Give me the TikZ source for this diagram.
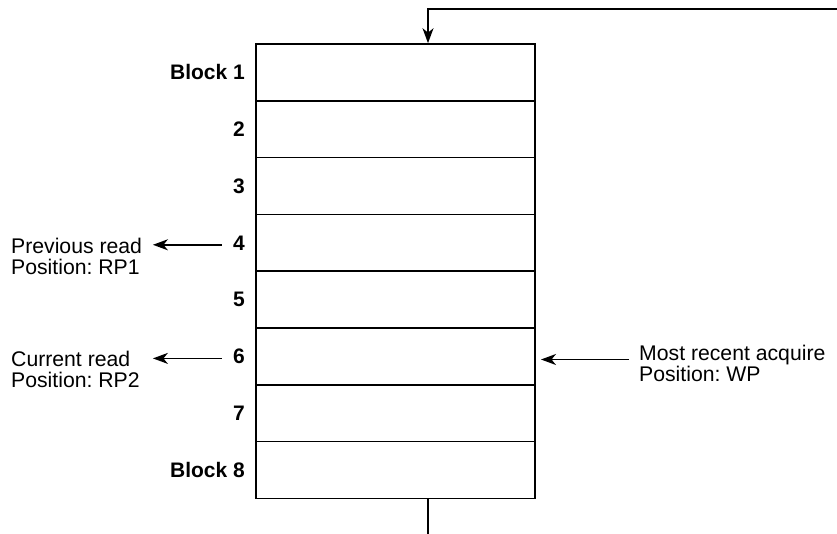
\documentclass[tikz,border=0pt]{standalone}
\usepackage{fontspec}
\setmainfont{Liberation Sans}
\usetikzlibrary{arrows.meta}
\frenchspacing
\begin{document}
\begin{tikzpicture}[x=1pt,y=-1pt,
  blk/.style={draw,line width=1.6pt,minimum width=279pt,minimum height=56.8pt,inner sep=0pt},
  lbl/.style={anchor=east,inner sep=0pt,font=\fontsize{21}{21}\selectfont\bfseries},
  txt/.style={anchor=north west,inner sep=0pt,align=left,font=\fontsize{21.2}{21}\selectfont},
  arr/.style={line width=1.6pt,-{Stealth[length=15pt,width=11pt,inset=4.5pt]}},
  ln/.style={line width=1.6pt}]
\useasboundingbox (0,0) rectangle (837,534);
\foreach \i/\t in {1/Block 1,2/2,3/3,4/4,5/5,6/6,7/7,8/Block 8}{
  \node[blk] (b\i) at (395.5,{44+56.8*(\i-0.5)}) {};
  \node[lbl] (l\i) at (245,{44+56.8*(\i-0.5)}) {\t};
}
\node[txt] (prev) at (11,238) {Previous read\\Position: RP1};
\node[txt] (cur) at (11,351) {Current read\\Position: RP2};
\node[txt] (wp) at (639,345) {Most recent acquire\\Position: WP};
\draw[arr] ([xshift=-11pt,yshift=-2pt]l4.west) -- ++(-69,0);
\draw[arr] ([xshift=-11pt,yshift=-2pt]l6.west) -- ++(-69,0);
\draw[arr] ([xshift=-10pt]wp.north west |- 0,359.5) -- ++(-88,0);
\coordinate (tin) at (837,9.3);
\coordinate (tout) at (428,534);
\draw[arr] (tin) -| (b1.north -| tout);
\draw[ln] (b8.south -| tout) -- (tout);
\end{tikzpicture}
\end{document}
